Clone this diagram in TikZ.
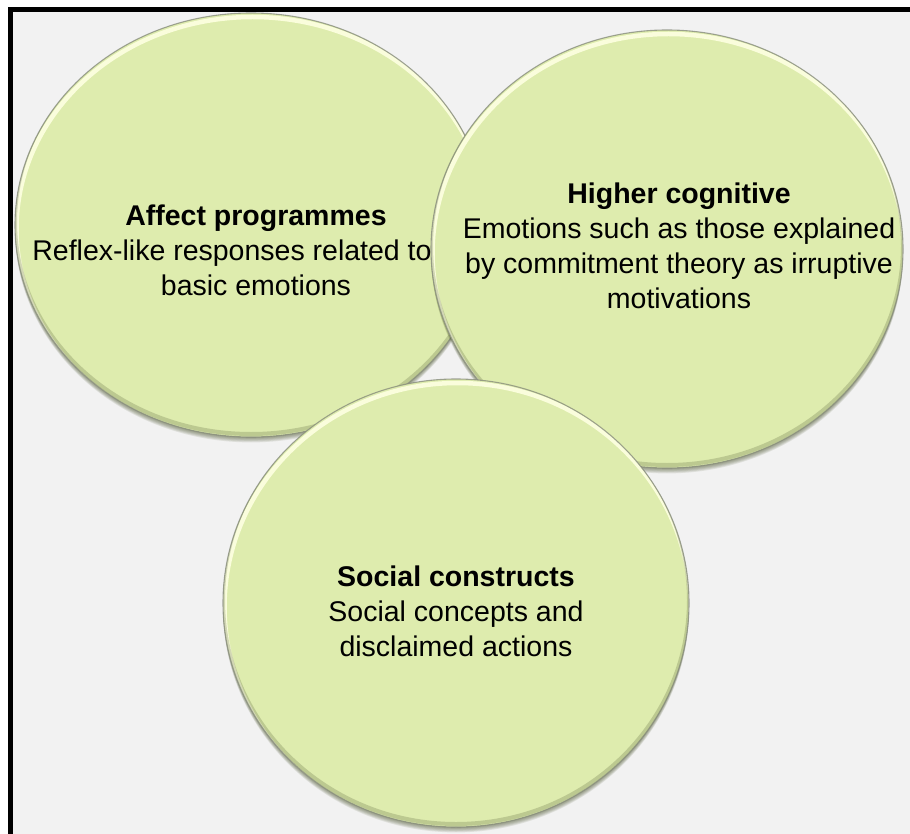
\documentclass[tikz,border=0pt]{standalone}
\usepackage{fontspec}
\setmainfont{Liberation Sans}
\definecolor{bg}{RGB}{242,242,242}
\definecolor{vfill}{RGB}{222,236,174}
\definecolor{vhi}{RGB}{250,253,220}
\definecolor{vshadow}{RGB}{70,80,40}
\definecolor{vedge}{RGB}{130,135,120}
\tikzset{
  lbl/.style={align=center, inner sep=0pt, font=\fontsize{28.5}{35}\selectfont, text=black},
}
\newcommand\vennball[3]{%
  \foreach \k in {1,...,6} {\fill[vshadow, opacity=0.11] ([shift={(0,\k*0.9)}]#1) ellipse [x radius=#2, y radius=#3];}
  \fill[vfill] (#1) ellipse [x radius=#2, y radius=#3];
  \begin{scope}
    \clip (#1) ellipse [x radius=#2, y radius=#3];
    \draw[vhi, line width=4.5pt] ([shift={(1.5,4)}]#1) ellipse [x radius=#2, y radius=#3];
    \draw[vshadow, opacity=0.22, line width=4pt] ([shift={(0,-3)}]#1) ellipse [x radius=#2, y radius=#3];
  \end{scope}
  \draw[vedge, opacity=0.75, line width=1.1pt] (#1) ellipse [x radius=#2, y radius=#3];
}
\begin{document}
\begin{tikzpicture}[x=1pt, y=-1pt]
  \useasboundingbox (0,0) rectangle (910,834);
  \fill[white] (0,0) rectangle (910,834);
  \fill[black] (8,7) rectangle (910,834);
  \fill[bg] (13,12) rectangle (910,834);

  \coordinate (c1) at (251,225);
  \coordinate (c2) at (667,249);
  \coordinate (c3) at (456,603);

  \vennball{c1}{236}{212}
  \vennball{c2}{236}{219}
  \vennball{c3}{233}{224}

  \node[lbl] (t1) at (256,250) {\textbf{Affect programmes}\\\hspace*{-48pt}Reflex-like responses related to\\basic emotions};
  \node[lbl] (t2) at (679,246) {\textbf{Higher cognitive}\\Emotions such as those explained\\by commitment theory as irruptive\\motivations};
  \node[lbl] (t3) at (456,611) {\textbf{Social constructs}\\Social concepts and\\disclaimed actions};
\end{tikzpicture}
\end{document}
